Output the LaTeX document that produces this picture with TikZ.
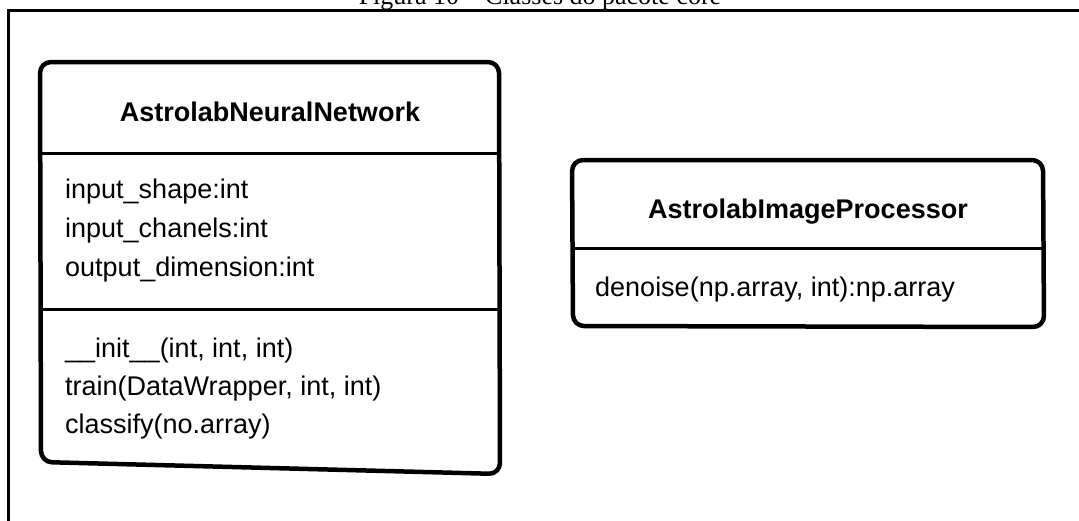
\documentclass[tikz,border=0pt]{standalone}
\usepackage{fontspec}
\setmainfont{Liberation Sans}
\newfontfamily\capfont{Liberation Serif}
\begin{document}
\begin{tikzpicture}[x=1pt,y=-1pt,
  umlbox/.style={line width=4.5pt, line join=round, rounded corners=11pt},
  divider/.style={line width=3pt},
  clsname/.style={font=\fontsize{27}{32}\selectfont\bfseries, anchor=base, inner sep=0pt},
  member/.style={font=\fontsize{27}{32}\selectfont, anchor=base west, inner sep=0pt},
  frameline/.style={line width=3pt}]
\useasboundingbox (0,0) rectangle (1079,520);
\clip (0,0) rectangle (1079,520);

% figure caption and frame
\node[font=\capfont\fontsize{26}{30}\selectfont, anchor=base, inner sep=0pt] (caption) at (540,4.5) {Figura 10 – Classes do pacote core};
\draw[frameline] (8,540) -- (8,10.5) -- (1100,10.5);

% class AstrolabNeuralNetwork
\draw[umlbox] (270,62) -- (499,62) -- (500,474) -- (41,462) -- (40,62) -- cycle;
\draw[divider] (40,153.5) -- (499,153.5);
\draw[divider] (40.5,309.5) -- (499.5,309.5);
\node[clsname] (nn) at (270,121) {AstrolabNeuralNetwork};
\node[member] (nn-a1) at (65,198) {input\_shape:int};
\node[member] (nn-a2) at (65,237) {input\_chanels:int};
\node[member] (nn-a3) at (65,276) {output\_dimension:int};
\node[member] (nn-m1) at (65,357) {\_\_init\_\_(int, int, int)};
\node[member] (nn-m2) at (65,395) {train(DataWrapper, int, int)};
\node[member] (nn-m3) at (65,433) {classify(no.array)};

% class AstrolabImageProcessor
\draw[umlbox] (808,160) -- (1043,160) -- (1044,327) -- (573,326) -- (572,160) -- cycle;
\draw[divider] (572,248.5) -- (1043.5,248.5);
\node[clsname] (ip) at (808,218) {AstrolabImageProcessor};
\node[member] (ip-m1) at (595,296) {denoise(np.array, int):np.array};
\end{tikzpicture}
\end{document}
